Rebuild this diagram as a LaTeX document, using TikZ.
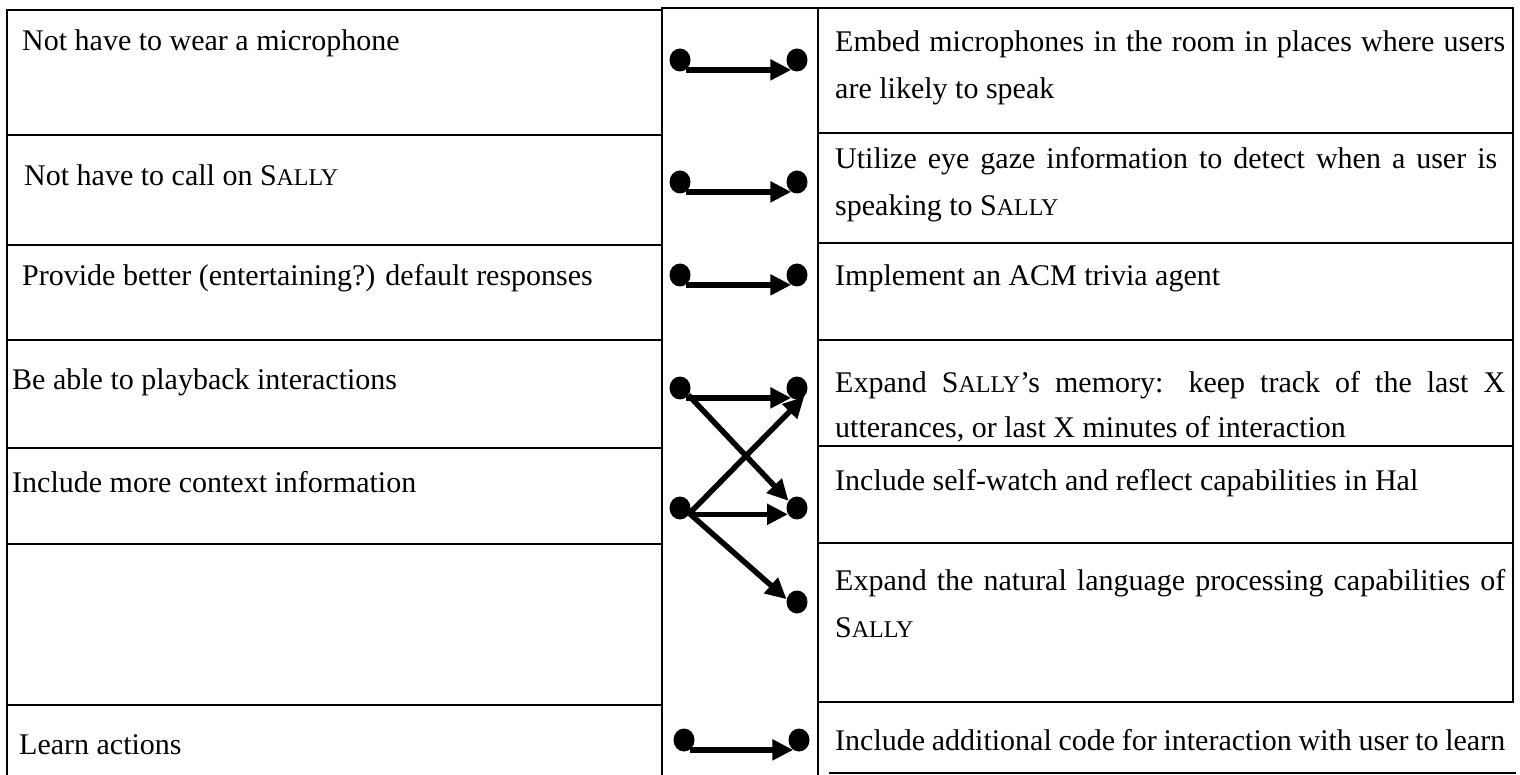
\documentclass[tikz,border=0pt]{standalone}
\usepackage{fontspec}
\setmainfont{Liberation Serif}
\usetikzlibrary{arrows.meta,shapes.geometric}
% small-capital name of the system
\newcommand\sally{S{\fontsize{24pt}{24pt}\selectfont ALLY}}
% a justified first line followed by a ragged second line
\newcommand\celltwo[4][670pt]{\vtop{\baselineskip=#2\hbox to #1{#3}\hbox{#4}}}
\begin{document}
\begin{tikzpicture}[x=1pt,y=-1pt,
  rule/.style={line width=1.3pt,line cap=rect},
  dot/.style={ellipse,fill=black,minimum width=21pt,minimum height=23pt,inner sep=0pt},
  link/.style={line width=5.5pt,-{Triangle[length=21pt,width=20pt]}},
  celltext/.style={anchor=base west,inner sep=0pt,font=\fontsize{30pt}{47pt}\selectfont}]
\useasboundingbox (0,0) rectangle (1520,775);

% table frame
\draw[rule] (7,10) -- (662,10);
\draw[rule] (662,8) -- (1513,8);
\draw[rule] (7,10) -- (7,775);
\draw[rule] (662,8) -- (662,775);
\draw[rule] (818,8) -- (818,775);
\draw[rule] (1513,8) -- (1513,702);
% left column rows
\foreach \y in {135,245,340,448,544,705}
  \draw[rule] (7,\y) -- (662,\y);
% right column rows
\foreach \y in {133,243,340,446,543,702}
  \draw[rule] (818,\y) -- (1513,\y);
\draw[rule] (830,773) -- (1515,773);

% left column texts
\node[celltext] (ltext1) at (22,51) {Not have to wear a microphone};
\node[celltext] (ltext2) at (24,186) {Not have to call on \sally};
\node[celltext] (ltext3) at (22,286) {Provide better (entertaining?) default responses};
\node[celltext] (ltext4) at (12,389) {Be able to playback interactions};
\node[celltext] (ltext5) at (12,492) {Include more context information};
\node[celltext] (ltext7) at (19,754) {Learn actions};

% right column texts
\node[celltext] (rtext1) at (835,52)
  {\celltwo{47pt}{Embed microphones in the room in places where users}{are likely to speak}};
\node[celltext] (rtext2) at (835,169)
  {\celltwo[662pt]{47pt}{Utilize eye gaze information to detect when a user is}{speaking to \sally}};
\node[celltext] (rtext3) at (835,286) {Implement an ACM trivia agent};
\node[celltext] (rtext4) at (835,392)
  {\celltwo{45pt}{Expand \sally’s memory: keep track of the last X}{utterances, or last X minutes of interaction}};
\node[celltext] (rtext5) at (835,490) {Include self-watch and reflect capabilities in Hal};
\node[celltext] (rtext6) at (835,590)
  {\celltwo{47pt}{Expand the natural language processing capabilities of}{\sally}};
\node[celltext] (rtext7) at (835,750)
  {\hbox to 670pt{Include additional code for interaction with user to learn}};

% connector dots
\node[dot] (l1) at (680,60) {};  \node[dot] (r1) at (797,60) {};
\node[dot] (l2) at (680,182) {}; \node[dot] (r2) at (797,182) {};
\node[dot] (l3) at (680,275) {}; \node[dot] (r3) at (797,275) {};
\node[dot] (l4) at (680,388) {}; \node[dot] (r4) at (797,388) {};
\node[dot] (l5) at (680,508) {}; \node[dot] (r5) at (797,508) {};
\node[dot] (r6) at (797,602) {};
\node[dot] (l7) at (684,740) {}; \node[dot] (r7) at (799,740) {};

% connectors
\draw[link] (l1.-60) -- (r1.-120);
\draw[link] (l2.-60) -- (r2.-120);
\draw[link] (l3.-60) -- (r3.-120);
\draw[link] (l4.-60) -- (r4.-120);
\draw[link] (l4.-40) -- (r5.140);
\draw[link] (l5.-35) -- (r5.-145);
\draw[link] (l5.-30) -- (r4.-50);
\draw[link] (l5.-30) -- (r6.165);
\draw[link] (l7.-60) -- (r7.-120);
\end{tikzpicture}
\end{document}
